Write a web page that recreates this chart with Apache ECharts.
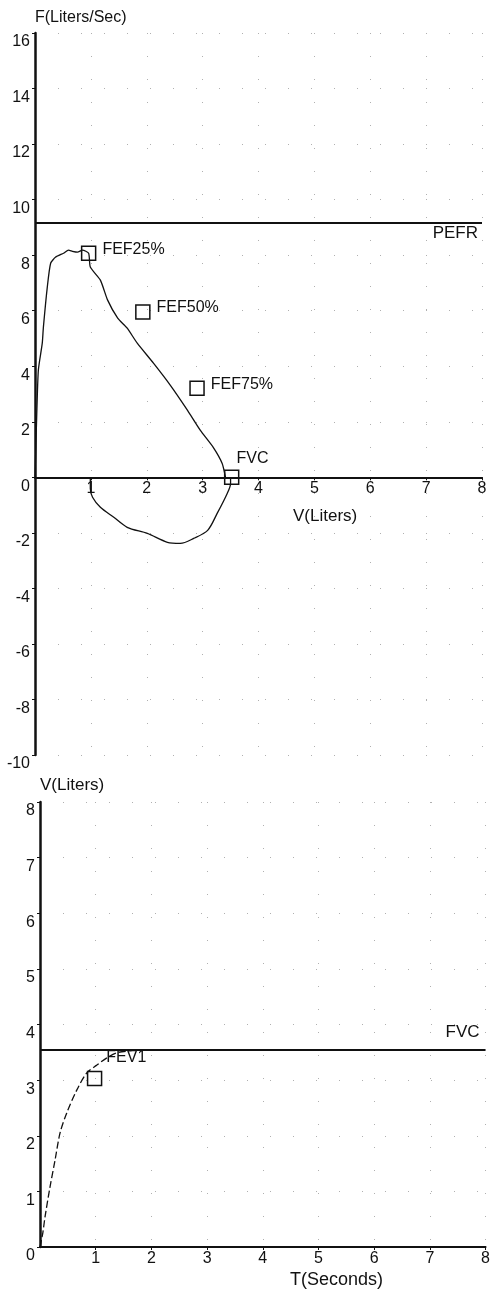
<!DOCTYPE html>
<html><head><meta charset="utf-8">
<script src="https://cdn.jsdelivr.net/npm/echarts@6/dist/echarts.min.js"></script>
<style>html,body{margin:0;padding:0;background:#fff}#c{width:493px;height:1290px}</style>
</head><body><div id="c"></div>
<script>
// ---- data ----
const expFlowVolume = [[0,0],[0.03,2.16],[0.06,3.86],[0.13,4.83],[0.15,5.4],[0.22,6.85],[0.28,7.71],[0.37,7.93],[0.51,8.07],[0.6,8.18],[0.67,8.14],[0.76,8.11],[0.85,8.18],[0.96,8.07],[0.99,7.57],[1.17,7.1],[1.3,6.38],[1.48,5.73],[1.65,5.37],[1.83,4.83],[2.12,4.11],[2.42,3.32],[2.73,2.41],[2.96,1.69],[3.19,1.08],[3.35,0.5],[3.41,0]];
const inspFlowVolume = [[3.5,0],[3.5,-0.22],[3.44,-0.58],[3.26,-1.3],[3.09,-1.91],[2.84,-2.2],[2.6,-2.38],[2.37,-2.34],[2.01,-2.02],[1.65,-1.8],[1.41,-1.44],[1.17,-1.08],[1.03,-0.72],[0.99,-0.4],[0.99,0]];
const volumeTime = [[0,0],[0.05,0.25],[0.09,0.54],[0.18,1.08],[0.27,1.56],[0.36,2.05],[0.48,2.41],[0.66,2.82],[0.84,3.13],[1.02,3.27],[1.2,3.4],[1.38,3.49],[1.66,3.53],[2.2,3.54]];
const flowMarkerNames = ['FEF25%','FEF50%','FEF75%','FVC'];
const flowMarkerV = [0.96,1.93,2.9,3.52];
const flowMarkerF = [8.07,5.95,3.21,0];
const pefrValue = 9.15;
const fvcValue = 3.54;
const timeMarkerNames = ['FEV1'];
const timeMarkerT = [0.98];
const timeMarkerV = [3.03];
const flowAxis = {min:-10, max:16, step:2};
const volAxis = {min:0, max:8, step:1};
const timeAxis = {min:0, max:8, step:1};
const volTimeAxis = {min:0, max:8, step:1};
const titles = {flow:'F(Liters/Sec)', vol:'V(Liters)', vol2:'V(Liters)', time:'T(Seconds)', pefr:'PEFR', fvc:'FVC'};

// ---- styling / layout ----
const FONT = 'Liberation Sans, Arial, sans-serif';
const INK = '#111';
const TOP_H = 722;
const dotGrid = {show:true, lineStyle:{color:'#b0b0b0', width:1, type:[1,22]}};
const markerLabelOffsets = [[0,-4],[0,-4],[0,-4],[-9,-19]];
const timeLabelOffsets = [[-2,-21]];

const chart = echarts.init(document.getElementById('c'), null, {renderer:'canvas'});

function xAxisCfg(gi, ax, margin, offset){
  return {type:'value', gridIndex:gi, min:ax.min, max:ax.max, interval:ax.step, position:'bottom', offset:offset,
    axisLine:{onZero:false, lineStyle:{color:INK, width:2}},
    axisTick:{show:true, inside:false, length:3, lineStyle:{color:INK}},
    axisLabel:{showMinLabel:false, color:INK, fontSize:16, fontFamily:FONT, margin:margin},
    splitLine:dotGrid};
}
function yAxisCfg(gi, ax){
  return {type:'value', gridIndex:gi, min:ax.min, max:ax.max, interval:ax.step,
    axisLine:{show:true, onZero:false, lineStyle:{color:INK, width:2.5}},
    axisTick:{show:true, inside:false, length:3, lineStyle:{color:INK}},
    axisLabel:{color:INK, fontSize:16, fontFamily:FONT, margin:5, verticalAlign:'top', padding:[1,0,0,0]},
    splitLine:dotGrid};
}
// place the top x axis on F = 0
const zeroOffset = -TOP_H * (0 - flowAxis.min) / (flowAxis.max - flowAxis.min);

const flowMarkers = flowMarkerNames.map((n,i)=>({name:n, value:[flowMarkerV[i], flowMarkerF[i]],
  label:{offset:markerLabelOffsets[i]}}));
const timeMarkers = timeMarkerNames.map((n,i)=>({name:n, value:[timeMarkerT[i], timeMarkerV[i]],
  label:{offset:timeLabelOffsets[i]}}));

const markerStyle = {symbol:'rect', symbolSize:14,
  itemStyle:{color:'rgba(255,255,255,0)', borderColor:INK, borderWidth:1.5, opacity:1},
  label:{show:true, position:'right', distance:6, formatter:'{b}', color:INK, fontSize:16, fontFamily:FONT}};

const option = {
  animation:false,
  backgroundColor:'#fff',
  grid:[{left:35, right:11, top:33, height:TOP_H}, {left:40, right:5, top:802, height:445}],
  xAxis:[xAxisCfg(0, volAxis, 3, zeroOffset), xAxisCfg(1, timeAxis, 4, 0)],
  yAxis:[yAxisCfg(0, flowAxis), yAxisCfg(1, volTimeAxis)],
  series:[
    {type:'line', xAxisIndex:0, yAxisIndex:0, data:expFlowVolume, showSymbol:false, smooth:0.2,
      lineStyle:{color:INK, width:1.3},
      markLine:{silent:true, symbol:'none', data:[{yAxis:pefrValue}],
        lineStyle:{color:INK, width:1.8, type:'solid'},
        label:{show:true, position:'insideEndBottom', formatter:titles.pefr, color:INK, fontSize:17, fontFamily:FONT, distance:[4,2]}}},
    {type:'line', xAxisIndex:0, yAxisIndex:0, data:inspFlowVolume, showSymbol:false, smooth:0.3,
      lineStyle:{color:INK, width:1.3}},
    Object.assign({type:'scatter', xAxisIndex:0, yAxisIndex:0, data:flowMarkers, z:5}, markerStyle),
    {type:'line', xAxisIndex:1, yAxisIndex:1, data:volumeTime, showSymbol:false, smooth:0.3,
      lineStyle:{color:INK, width:1.3, type:[7,3]},
      markLine:{silent:true, symbol:'none', data:[{yAxis:fvcValue}],
        lineStyle:{color:INK, width:1.8, type:'solid'},
        label:{show:true, position:'insideEndTop', formatter:titles.fvc, color:INK, fontSize:17, fontFamily:FONT, distance:[6,9]}}},
    Object.assign({type:'scatter', xAxisIndex:1, yAxisIndex:1, data:timeMarkers, z:5}, markerStyle)
  ],
  graphic:[
    {type:'text', left:35, top:10, style:{text:titles.flow, fill:INK, font:'16px '+FONT}},
    {type:'text', left:293, top:508, style:{text:titles.vol, fill:INK, font:'17px '+FONT}},
    {type:'text', left:40, top:777, style:{text:titles.vol2, fill:INK, font:'17px '+FONT}},
    {type:'text', left:290, top:1271, style:{text:titles.time, fill:INK, font:'18px '+FONT}}
  ]
};
chart.setOption(option);
</script></body></html>
